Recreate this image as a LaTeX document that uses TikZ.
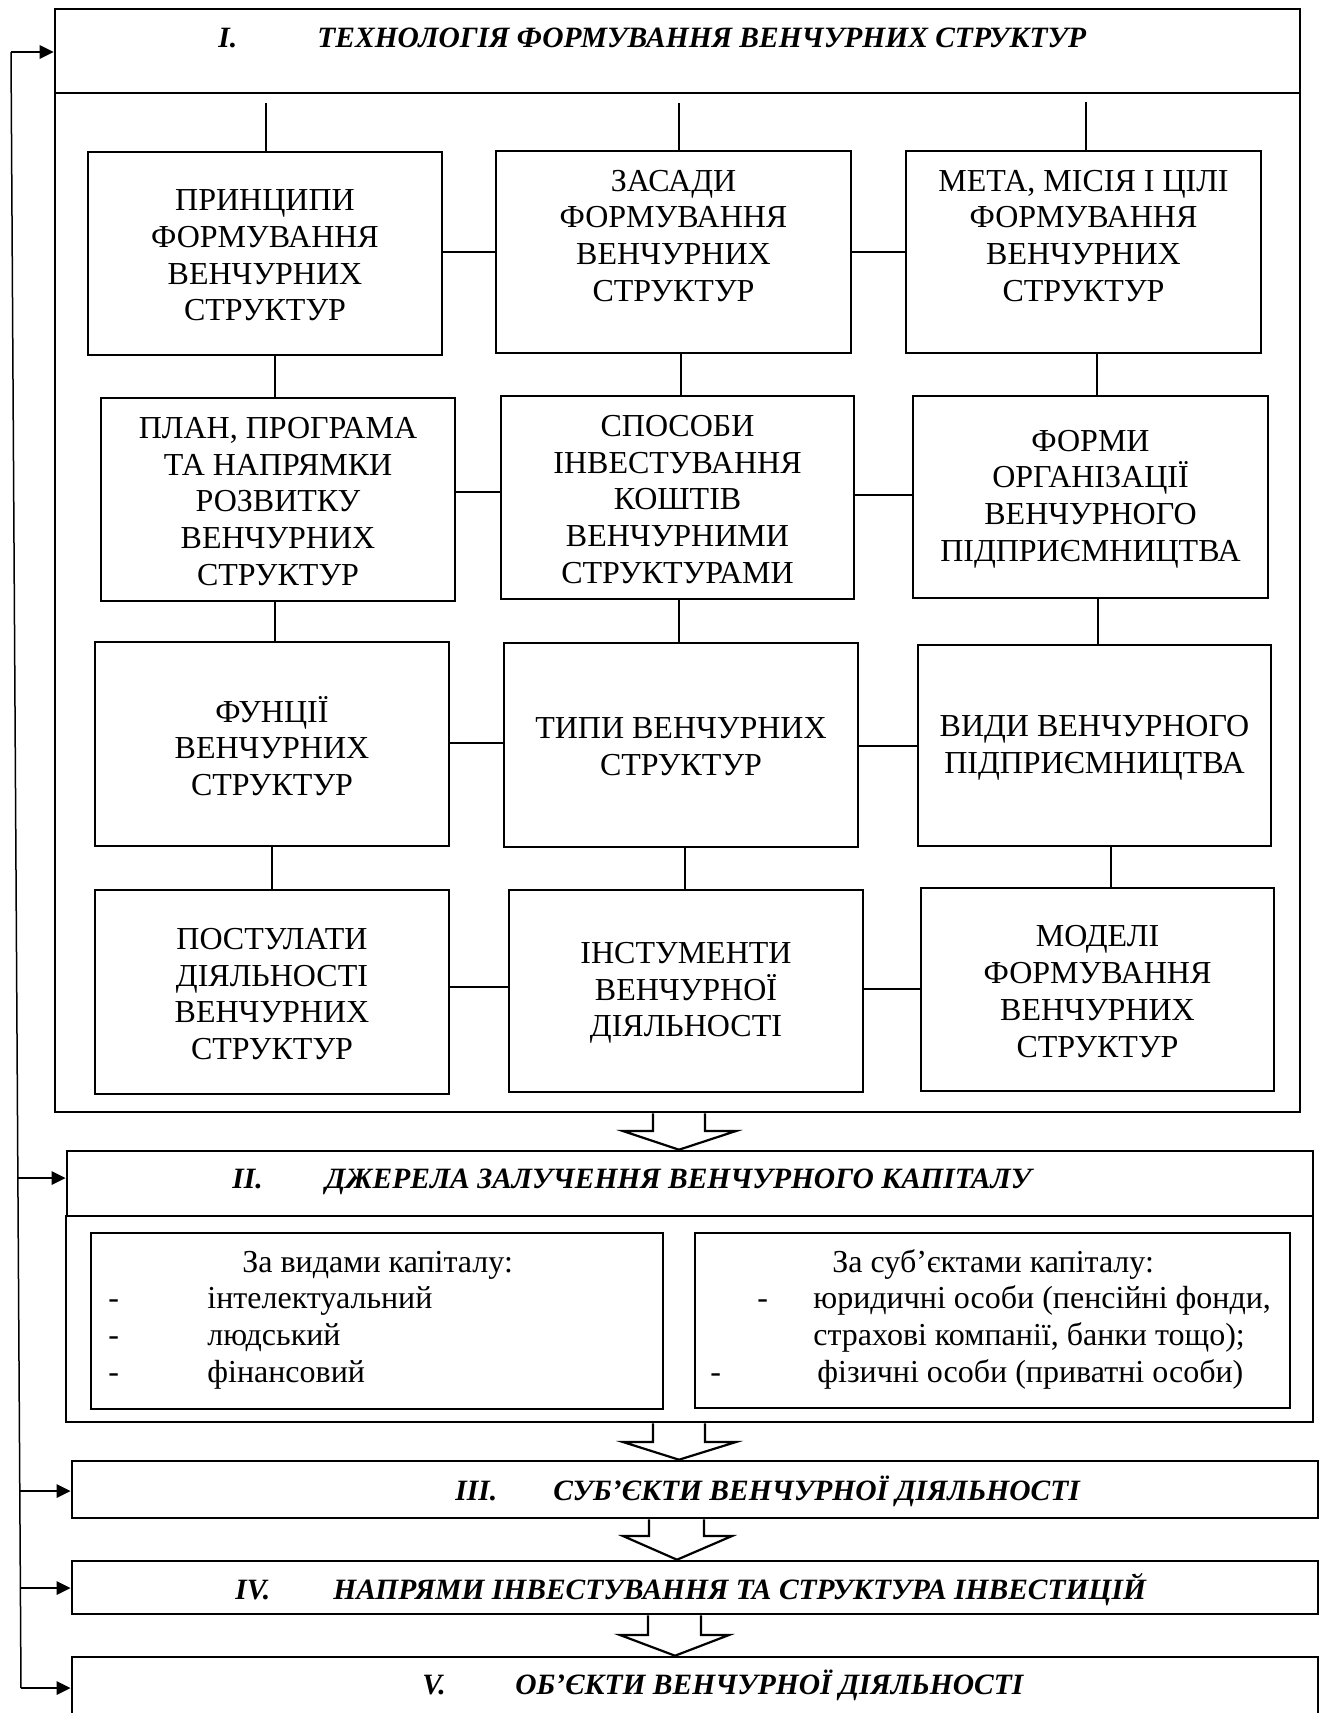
\documentclass[tikz,border=0pt]{standalone}
\usepackage{fontspec}
\setmainfont{Liberation Serif}
\usetikzlibrary{fit,arrows.meta}
\begin{document}
\begin{tikzpicture}[x=0.5pt,y=-0.5pt,
  bx/.style={draw, line width=1.3pt, inner sep=0pt},
  gl/.style={align=center, font=\fontsize{16}{18.35}\selectfont, inner sep=0pt, yshift=-1pt},
  hdr/.style={font=\fontsize{14.75}{17}\selectfont\bfseries\itshape, inner sep=0pt, anchor=base west},
  txt/.style={font=\fontsize{16}{18.35}\selectfont, inner sep=0pt, anchor=base west},
  conn/.style={line width=0.7pt},
  blk/.style={draw, line width=1.1pt, line join=miter},
  fb/.style={line width=0.75pt},
  fbarrow/.style={line width=1.35pt, -{Triangle[length=7pt,width=6.5pt]}},
]
\useasboundingbox (0,0) rectangle (1322,1713);

% ---------- I ----------
\node[bx, fit={(55,9) (1300,93)}] (h1) {};
\node[hdr] (h1n) at (218,47) {I.};
\node[hdr] (h1t) at (317,47) {ТЕХНОЛОГІЯ ФОРМУВАННЯ ВЕНЧУРНИХ СТРУКТУР};
\node[bx, fit={(55,93) (1300,1112)}] (o1) {};

% grid
\node[bx, fit={(88,152) (442,355)}, label={[gl]center:{ПРИНЦИПИ\\ФОРМУВАННЯ\\ВЕНЧУРНИХ\\СТРУКТУР}}] (a1) {};
\node[bx, fit={(496,151) (851,353)}, label={[gl]center:{ЗАСАДИ\\ФОРМУВАННЯ\\ВЕНЧУРНИХ\\СТРУКТУР\\~}}] (b1) {};
\node[bx, fit={(906,151) (1261,353)}, label={[gl]center:{МЕТА, МІСІЯ І ЦІЛІ\\ФОРМУВАННЯ\\ВЕНЧУРНИХ\\СТРУКТУР\\~}}] (c1) {};

\node[bx, fit={(101,398) (455,601)}, label={[gl]center:{ПЛАН, ПРОГРАМА\\ТА НАПРЯМКИ\\РОЗВИТКУ\\ВЕНЧУРНИХ\\СТРУКТУР}}] (a2) {};
\node[bx, fit={(501,396) (854,599)}, label={[gl]center:{СПОСОБИ\\ІНВЕСТУВАННЯ\\КОШТІВ\\ВЕНЧУРНИМИ\\СТРУКТУРАМИ}}] (b2) {};
\node[bx, fit={(913,396) (1268,598)}, label={[gl]center:{ФОРМИ\\ОРГАНІЗАЦІЇ\\ВЕНЧУРНОГО\\ПІДПРИЄМНИЦТВА}}] (c2) {};

\node[bx, fit={(95,642) (449,846)}, label={[gl]center:{ФУНЦІЇ\\ВЕНЧУРНИХ\\СТРУКТУР}}] (a3) {};
\node[bx, fit={(504,643) (858,847)}, label={[gl]center:{ТИПИ ВЕНЧУРНИХ\\СТРУКТУР}}] (b3) {};
\node[bx, fit={(918,645) (1271,846)}, label={[gl]center:{ВИДИ ВЕНЧУРНОГО\\ПІДПРИЄМНИЦТВА}}] (c3) {};

\node[bx, fit={(95,890) (449,1094)}, label={[gl]center:{ПОСТУЛАТИ\\ДІЯЛЬНОСТІ\\ВЕНЧУРНИХ\\СТРУКТУР}}] (a4) {};
\node[bx, fit={(509,890) (863,1092)}, label={[gl]center:{ІНСТУМЕНТИ\\ВЕНЧУРНОЇ\\ДІЯЛЬНОСТІ}}] (b4) {};
\node[bx, fit={(921,888) (1274,1091)}, label={[gl]center:{МОДЕЛІ\\ФОРМУВАННЯ\\ВЕНЧУРНИХ\\СТРУКТУР}}] (c4) {};

% top stubs
\coordinate (sa) at (266,103);
\coordinate (sb) at (679,103);
\coordinate (sc) at (1086,102);
\draw[conn] (sa) -- (sa |- a1.north);
\draw[conn] (sb) -- (sb |- b1.north);
\draw[conn] (sc) -- (sc |- c1.north);

% vertical connectors
\draw[conn] (275,0 |- a1.south) -- (275,0 |- a2.north);
\draw[conn] (275,0 |- a2.south) -- (275,0 |- a3.north);
\draw[conn] (272,0 |- a3.south) -- (272,0 |- a4.north);
\draw[conn] (681,0 |- b1.south) -- (681,0 |- b2.north);
\draw[conn] (679,0 |- b2.south) -- (679,0 |- b3.north);
\draw[conn] (685,0 |- b3.south) -- (685,0 |- b4.north);
\draw[conn] (1097,0 |- c1.south) -- (1097,0 |- c2.north);
\draw[conn] (1098,0 |- c2.south) -- (1098,0 |- c3.north);
\draw[conn] (1111,0 |- c3.south) -- (1111,0 |- c4.north);

% horizontal connectors
\draw[conn] (a1.east |- 0,252) -- (b1.west |- 0,252);
\draw[conn] (b1.east |- 0,252) -- (c1.west |- 0,252);
\draw[conn] (a2.east |- 0,492) -- (b2.west |- 0,492);
\draw[conn] (b2.east |- 0,495) -- (c2.west |- 0,495);
\draw[conn] (a3.east |- 0,743) -- (b3.west |- 0,743);
\draw[conn] (b3.east |- 0,746) -- (c3.west |- 0,746);
\draw[conn] (a4.east |- 0,987) -- (b4.west |- 0,987);
\draw[conn] (b4.east |- 0,989) -- (c4.west |- 0,989);

% ---------- II ----------
\node[bx, fit={(67,1151) (1313,1216)}] (h2) {};
\node[hdr] (h2n) at (232,1188) {II.};
\node[hdr] (h2t) at (325,1188) {ДЖЕРЕЛА ЗАЛУЧЕННЯ ВЕНЧУРНОГО КАПІТАЛУ};
\node[bx, fit={(66,1216) (1313,1422)}] (o2) {};
\node[bx, fit={(91,1233) (663,1409)}] (s1) {};
\node[bx, fit={(695,1233) (1290,1408)}] (s2) {};

\node[txt] (s1a) at (242,1272) {За видами капіталу:};
\node[txt] (s1d1) at (108,1308) {-};
\node[txt] (s1d2) at (108,1345) {-};
\node[txt] (s1d3) at (108,1382) {-};
\node[txt] (s1b) at (207,1308) {інтелектуальний};
\node[txt] (s1c) at (207,1345) {людський};
\node[txt] (s1e) at (207,1382) {фінансовий};

\node[txt] (s2a) at (832,1272) {За суб’єктами капіталу:};
\node[txt] (s2d1) at (757,1308) {-};
\node[txt] (s2b) at (813,1308) {юридичні особи (пенсійні фонди,};
\node[txt] (s2c) at (813,1345) {страхові компанії, банки тощо);};
\node[txt] (s2d2) at (710,1382) {-};
\node[txt] (s2e) at (817,1382) {фізичні особи (приватні особи)};

% ---------- III, IV, V ----------
\node[bx, fit={(72,1461) (1318,1518)}] (h3) {};
\node[hdr] (h3n) at (455,1500) {III.};
\node[hdr] (h3t) at (553,1500) {СУБ’ЄКТИ ВЕНЧУРНОЇ ДІЯЛЬНОСТІ};

\node[bx, fit={(72,1561) (1318,1614)}] (h4) {};
\node[hdr] (h4n) at (235,1599) {IV.};
\node[hdr] (h4t) at (333,1599) {НАПРЯМИ ІНВЕСТУВАННЯ ТА СТРУКТУРА ІНВЕСТИЦІЙ};

\node[bx, fit={(72,1657) (1318,1730)}] (h5) {};
\node[hdr] (h5n) at (422,1694) {V.};
\node[hdr] (h5t) at (515,1694) {ОБ’ЄКТИ ВЕНЧУРНОЇ ДІЯЛЬНОСТІ};

% block arrows
\draw[blk] (653,0 |- o1.south) -- (653,1131) -- (623,1131) -- (679,0 |- h2.north)
  -- (736,1131) -- (705,1131) -- (705,0 |- o1.south);
\draw[blk] (653,0 |- o2.south) -- (653,1442) -- (623,1442) -- (679,0 |- h3.north)
  -- (736,1442) -- (705,1442) -- (705,0 |- o2.south);
\draw[blk] (649,0 |- h3.south) -- (649,1536) -- (623,1536) -- (677,0 |- h4.north)
  -- (732,1536) -- (704,1536) -- (704,0 |- h3.south);
\draw[blk] (648,0 |- h4.south) -- (648,1635) -- (620,1635) -- (675,0 |- h5.north)
  -- (729,1635) -- (701,1635) -- (701,0 |- h4.south);

% feedback line and arrows
\coordinate (ft) at (11,52);
\coordinate (f2) at (18,1178);
\coordinate (f3) at (20,1491);
\coordinate (f4) at (20.5,1588);
\coordinate (fbm) at (21,1688);
\draw[fb] (ft) -- (fbm);
\draw[fbarrow] (ft) -- (ft -| h1.west);
\draw[fbarrow] (f2) -- (f2 -| h2.west);
\draw[fbarrow] (f3) -- (f3 -| h3.west);
\draw[fbarrow] (f4) -- (f4 -| h4.west);
\draw[fbarrow] (fbm) -- (fbm -| h5.west);
\end{tikzpicture}
\end{document}
